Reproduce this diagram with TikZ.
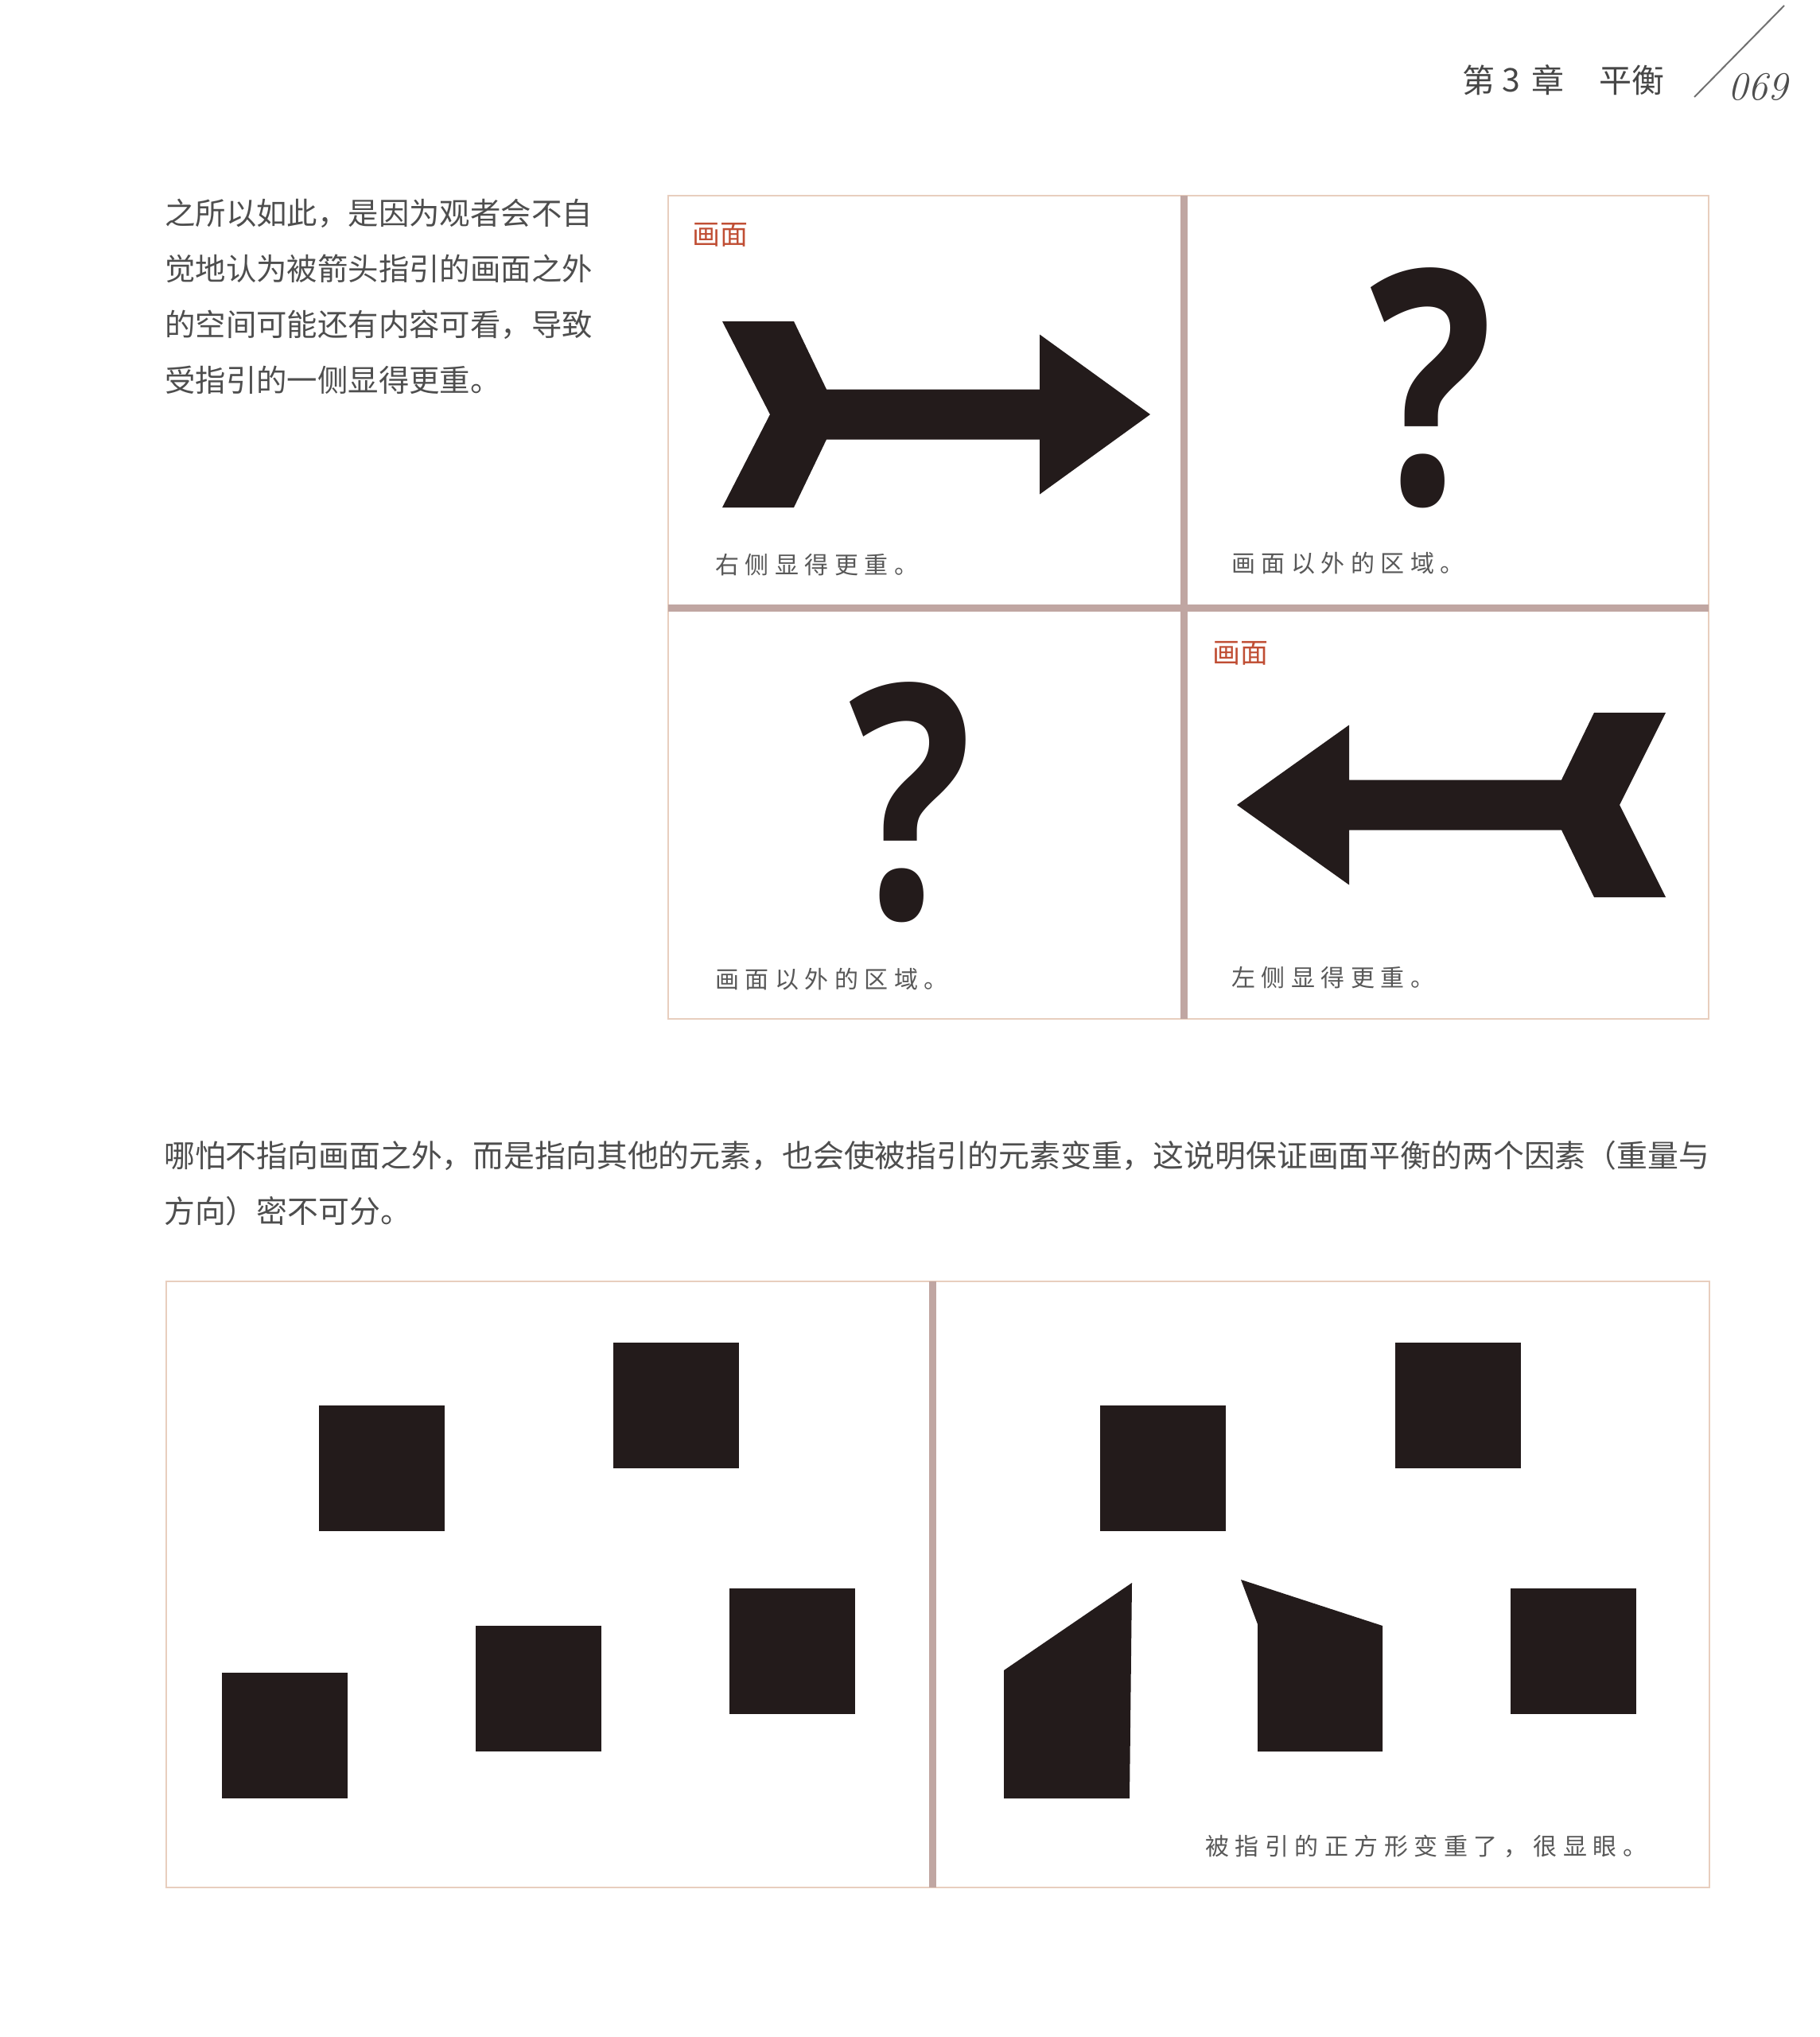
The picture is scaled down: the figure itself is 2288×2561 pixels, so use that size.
\documentclass[tikz,border=0pt]{standalone}
\usepackage{fontspec}
\usepackage{graphicx}
\newfontfamily\cjk{Noto Sans CJK SC}
\newfontfamily\capfont{Noto Sans CJK SC}[LetterSpace=25]
\newfontfamily\qfont{Open Sans}
\definecolor{txt}{RGB}{78,78,78}
\definecolor{captxt}{RGB}{88,88,88}
\definecolor{redlbl}{RGB}{192,78,52}
\definecolor{framec}{RGB}{232,206,190}
\definecolor{divc}{RGB}{192,166,162}
\definecolor{ink}{RGB}{35,27,27}
\tikzset{
  body/.style={anchor=west,inner sep=0pt,text=txt,font=\cjk\fontsize{38.4}{38.4}\selectfont},
  bodyb/.style={anchor=west,inner sep=0pt,text=txt,font=\cjk\fontsize{38.86}{38.86}\selectfont},
  caption/.style={anchor=west,inner sep=0pt,text=captxt,font=\capfont\fontsize{30}{30}\selectfont},
  redlabel/.style={anchor=west,inner sep=0pt,text=redlbl,font=\cjk\fontsize{35}{35}\selectfont},
  head/.style={inner sep=0pt,text=txt!90!black,font=\cjk\fontsize{41}{41}\selectfont},
  framel/.style={draw=framec,line width=2.5pt},
  divl/.style={draw=divc,line width=9pt},
  blk/.style={fill=ink},
  qmark/.style={inner sep=0pt,anchor=south,text=ink}
}
\newcommand{\qglyph}{\scalebox{0.79}[1]{\resizebox{!}{296pt}{\qfont\bfseries ?}}}
\begin{document}
\begin{tikzpicture}[x=1pt,y=-1pt]
\useasboundingbox (0,0) rectangle (2288,2561);
\fill[white] (0,0) rectangle (2288,2561);

% header
\node[head] (h1) at (1859,101) {第};
\node[head] (h2) at (1900,101) {3};
\node[head] (h3) at (1946,101) {章};
\node[head] (h4) at (2051,101) {平衡};
\coordinate (sl1) at (2130,122);
\coordinate (sl2) at (2243,7);
\draw[txt!80,line width=2pt] (sl1) -- (sl2);
\node[inner sep=0pt,anchor=base west,text=txt,font=\fontsize{50}{50}\selectfont\itshape\addfontfeature{Numbers=OldStyle}] (pg) at (2172,125) {069};

% top paragraph
\node[body] (t1) at (207,268) {之所以如此，是因为观者会不自};
\node[body] (t2) at (207,338) {觉地认为被箭头指引的画面之外};
\node[body] (t3) at (207,408) {的空间可能还有内容可看，导致};
\node[body] (t4) at (207,478) {受指引的一侧显得更重。};

% top grid
\draw[framel] (840,246) rectangle (2148,1281);
\draw[divl] (1488,246) -- (1488,1281);
\draw[divl] (840,764) -- (2148,764);

% cell TL
\node[redlabel] (r1) at (870,295) {画面};
\fill[blk] (908,404) -- (998,404) -- (1039,489.5) -- (1307,489.5) -- (1307,420.5)
  -- (1446,521) -- (1307,621.5) -- (1307,552.5) -- (1039,552.5) -- (998,638)
  -- (908,638) -- (968,521) -- cycle;
\node[caption] (c1) at (899,710) {右侧显得更重。};

% cell TR
\node[qmark] (q1) at (1800,639) {\qglyph};
\node[caption] (c2) at (1548,708) {画面以外的区域。};

% cell BL
\node[qmark] (q2) at (1145,1160) {\qglyph};
\node[caption] (c3) at (899,1231) {画面以外的区域。};

% cell BR
\node[redlabel] (r2) at (1524,821) {画面};
\fill[blk] (1555,1012) -- (1696,911.5) -- (1696,980.5) -- (1963,980.5) -- (2004,896)
  -- (2094,896) -- (2036,1012) -- (2094,1128) -- (2004,1128) -- (1963,1043.5)
  -- (1696,1043.5) -- (1696,1112.5) -- cycle;
\node[caption] (c4) at (1548,1229) {左侧显得更重。};

% bottom paragraph
\node[bodyb] (b1) at (206,1453) {哪怕不指向画面之外，而是指向其他的元素，也会使被指引的元素变重，这说明保证画面平衡的两个因素（重量与};
\node[bodyb] (b2) at (206,1523) {方向）密不可分。};

% bottom panels
\draw[framel] (209,1611) rectangle (2149,2373);
\draw[divl] (1172,1611) -- (1172,2373);

% left panel squares
\fill[blk] (401,1767) rectangle ++(158,158);
\fill[blk] (771,1688) rectangle ++(158,158);
\fill[blk] (917,1997) rectangle ++(158,158);
\fill[blk] (598,2044) rectangle ++(158,158);
\fill[blk] (279,2103) rectangle ++(158,158);

% right panel
\fill[blk] (1383,1767) rectangle ++(158,158);
\fill[blk] (1754,1688) rectangle ++(158,158);
\fill[blk] (1899,1997) rectangle ++(158,158);
\fill[blk] (1262,2100) -- (1423,1990) -- (1420,2261) -- (1262,2261) -- cycle;
\fill[blk] (1560,1986) -- (1738,2044) -- (1738,2202) -- (1581,2202) -- (1581,2042) -- cycle;
\node[caption] (c5) at (1515,2321) {被指引的正方形变重了，很显眼。};
\end{tikzpicture}
\end{document}
